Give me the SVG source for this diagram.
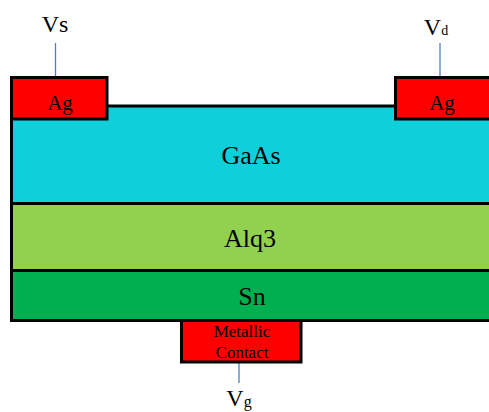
<svg xmlns="http://www.w3.org/2000/svg" width="489" height="412" viewBox="0 0 489 412">
<style>
.box{stroke:#000;stroke-width:3}
.lbl{font-family:"Liberation Serif","Times New Roman",serif;fill:#000;text-anchor:middle}
.lead{stroke:#4F81BD;stroke-width:1.3;fill:none}
</style>
<rect width="489" height="412" fill="#fff"/>
<g id="connectors">
<line class="lead" x1="55.5" y1="43" x2="55.5" y2="78"/>
<line class="lead" x1="440" y1="43" x2="440" y2="78"/>
<line class="lead" x1="239" y1="362" x2="239" y2="383"/>
</g>
<g id="GaAs">
<rect class="box" x="11.5" y="106" width="490" height="97.5" fill="#0FCFDA"/>
<text class="lbl" x="251" y="164" font-size="26">GaAs</text>
</g>
<g id="Alq3">
<rect class="box" x="11.5" y="203.5" width="490" height="67" fill="#92D050"/>
<text class="lbl" x="250" y="247" font-size="26">Alq3</text>
</g>
<g id="contact">
<rect class="box" x="181.5" y="320.5" width="119.5" height="41.5" fill="#FF0000"/>
<text class="lbl" x="242" y="337" font-size="17" fill="#200000">Metallic</text>
<text class="lbl" x="242" y="358" font-size="17" fill="#200000">Contact</text>
</g>
<g id="Sn">
<rect class="box" x="11.5" y="270.5" width="490" height="50" fill="#00B050"/>
<text class="lbl" x="252" y="305" font-size="26">Sn</text>
</g>
<g id="AgLeft">
<rect class="box" x="11.5" y="77.5" width="95.5" height="41.5" fill="#FF0000"/>
<text class="lbl" x="60" y="110" font-size="21">Ag</text>
</g>
<g id="AgRight">
<rect class="box" x="395.5" y="77.5" width="100" height="41.5" fill="#FF0000"/>
<text class="lbl" x="442" y="110" font-size="21">Ag</text>
</g>
<g id="Vs">
<text class="lbl" x="55" y="32" font-size="24">Vs</text>
</g>
<g id="Vd">
<text class="lbl" x="436" y="35" font-size="24">V<tspan font-size="14">d</tspan></text>
</g>
<g id="Vg">
<text class="lbl" x="239" y="406" font-size="24">V<tspan font-size="16" dy="1">g</tspan></text>
</g>
</svg>
